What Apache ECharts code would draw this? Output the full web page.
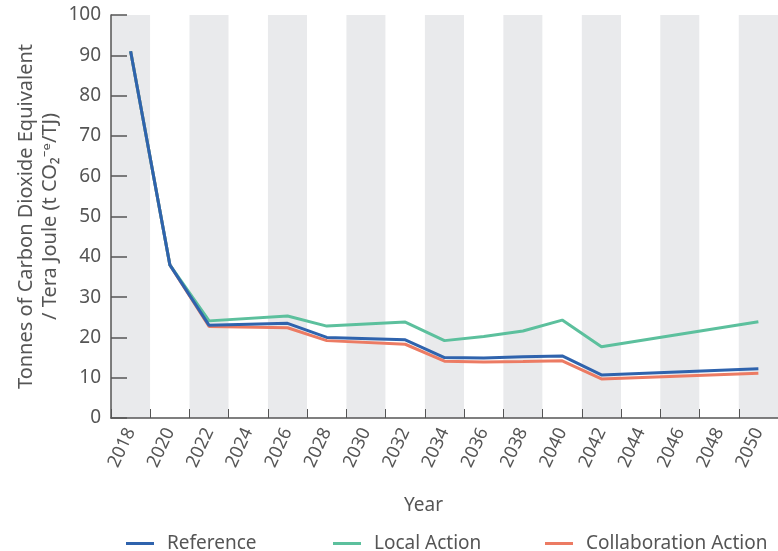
<!DOCTYPE html>
<html>
<head>
<meta charset="utf-8">
<script src="https://cdn.jsdelivr.net/npm/echarts@6/dist/echarts.min.js"></script>
<style>
html,body{margin:0;padding:0;background:#fff;}
#chart{width:778px;height:551px;}
</style>
</head>
<body>
<div id="chart"></div>
<script>
const years = ['2018','2020','2022','2024','2026','2028','2030','2032','2034','2036','2038','2040','2042','2044','2046','2048','2050'];
const reference = [91, 38, 23.0, null, 23.5, 20.0, null, 19.4, 15.0, 14.9, 15.2, 15.4, 10.7, null, null, null, 12.2];
const localAction = [91, 38, 24.1, null, 25.3, 22.8, null, 23.8, 19.2, 20.2, 21.6, 24.3, 17.7, null, null, null, 23.9];
const collaboration = [91, 38, 22.7, null, 22.4, 19.2, null, 18.3, 14.1, 13.9, 14.0, 14.2, 9.7, null, null, null, 11.1];
const yTicks = [0, 10, 20, 30, 40, 50, 60, 70, 80, 90, 100];

const FONT = 'Noto Sans';
const TXT = '#555555';
const AX = '#555555';
const C_REF = '#2f63ad';
const C_LOC = '#5cc09d';
const C_COL = '#ec7b63';

function legend(name, left) {
  return {
    data: [name], left: left, top: 529,
    icon: 'rect', itemWidth: 28, itemHeight: 3,
    textStyle: { fontFamily: FONT, fontSize: 19, color: TXT, padding: [0, 0, 0, 8] },
    selectedMode: false
  };
}

const chart = echarts.init(document.getElementById('chart'), null, { renderer: 'canvas' });
chart.setOption({
  animation: false,
  backgroundColor: '#ffffff',
  grid: { left: 111, right: 0, top: 15, bottom: 133, containLabel: false, outerBoundsMode: 'none' },
  legend: [
    legend('Reference', 121),
    legend('Local Action', 328),
    legend('Collaboration Action', 540)
  ],
  xAxis: {
    type: 'category',
    data: years,
    boundaryGap: true,
    name: 'Year',
    nameLocation: 'middle',
    nameGap: 78,
    nameMoveOverlap: false,
    nameTextStyle: { fontFamily: FONT, fontSize: 19, color: TXT, padding: [0, 42, 0, 0] },
    axisLine: { show: true, lineStyle: { color: AX, width: 1.5 } },
    axisTick: { show: true, inside: true, length: 9, alignWithLabel: false, lineStyle: { color: AX, width: 1 } },
    axisLabel: { rotate: 65, fontFamily: FONT, fontSize: 18, color: TXT, margin: 11, interval: 0, padding: [16, 0, 0, 0] },
    splitLine: { show: false },
    splitArea: { show: true, interval: 0, areaStyle: { color: ['#e9eaec', '#ffffff'] } }
  },
  yAxis: {
    type: 'value',
    min: yTicks[0], max: yTicks[yTicks.length - 1], interval: 10,
    name: 'Tonnes of Carbon Dioxide Equivalent\n/ Tera Joule (t CO\u2082\u207B\u1D49/TJ)',
    nameLocation: 'middle',
    nameGap: 49,
    nameMoveOverlap: false,
    nameTextStyle: { fontFamily: FONT, fontSize: 20, color: TXT, lineHeight: 24 },
    axisLine: { show: true, lineStyle: { color: AX, width: 1.5 } },
    axisTick: { show: true, inside: true, length: 16, lineStyle: { color: AX, width: 1.5 } },
    axisLabel: { fontFamily: FONT, fontSize: 19, color: TXT, margin: 10 },
    splitLine: { show: false }
  },
  series: [
    { name: 'Collaboration Action', type: 'line', data: collaboration, connectNulls: true, showSymbol: false, symbol: 'none', lineStyle: { color: C_COL, width: 3 }, itemStyle: { color: C_COL }, z: 2 },
    { name: 'Local Action', type: 'line', data: localAction, connectNulls: true, showSymbol: false, symbol: 'none', lineStyle: { color: C_LOC, width: 3 }, itemStyle: { color: C_LOC }, z: 3 },
    { name: 'Reference', type: 'line', data: reference, connectNulls: true, showSymbol: false, symbol: 'none', lineStyle: { color: C_REF, width: 3 }, itemStyle: { color: C_REF }, z: 4 }
  ]
});
</script>
</body>
</html>
